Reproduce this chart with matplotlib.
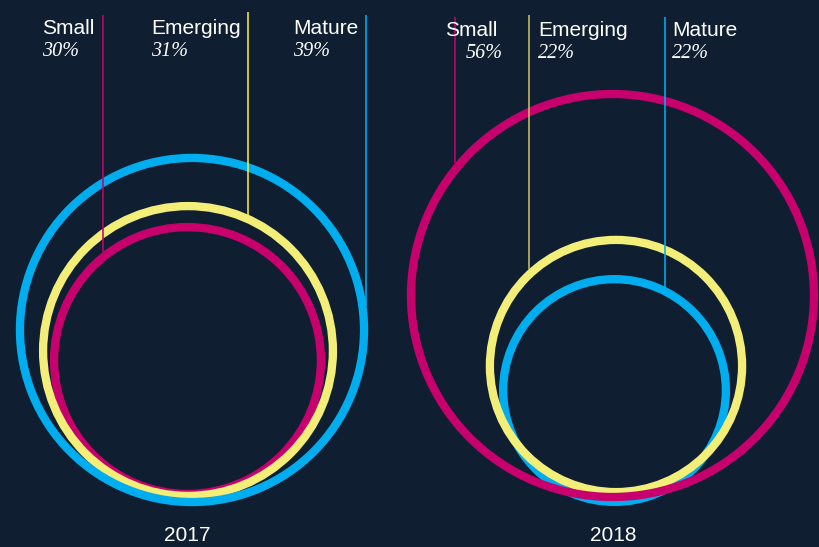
import numpy as np
import matplotlib
matplotlib.use("Agg")
import matplotlib.pyplot as plt
from matplotlib.patches import Circle

# ---------------- data ----------------
years = ["2017", "2018"]
categories = ["Small", "Emerging", "Mature"]
share_2017 = [30, 31, 39]          # % labels
share_2018 = [56, 22, 22]
# relative circle areas (arbitrary units)
area_2017 = [17.8, 21.0, 29.6]
area_2018 = [40.6, 15.9, 12.4]

# ---------------- style / layout ----------------
BG = "#0f1f31"
circle_colors = {"Small": "#c8006e", "Emerging": "#f2ee78", "Mature": "#00aeef"}
leader_colors = [
    {"Small": "#c8006e", "Emerging": "#f4ea3c", "Mature": "#00aeef"},
    {"Small": "#c8006e", "Emerging": "#c8bf62", "Mature": "#00aeef"},
]
SCALE = np.sqrt(1000.0)     # px per sqrt(area unit)
STROKE_PX = 8.3

# circle centres (pixel layout)
centres = [
    {"Small": (187.5, 360.5), "Emerging": (188.0, 351.0), "Mature": (192.0, 330.0)},
    {"Small": (612.5, 295.5), "Emerging": (616.0, 366.0), "Mature": (614.5, 390.5)},
]
# label layout: (text_x, pct_x, line_x, line_top)
label_layout = [
    {"Small": (42, 42, 103, 15), "Emerging": (151, 151, 248, 12), "Mature": (293, 293, 366.5, 15)},
    {"Small": (445, 466, 455.5, 17), "Emerging": (538, 538, 529, 15), "Mature": (672, 672, 665, 17)},
]
name_baseline = [33.5, 35.5]
pct_baseline = [56, 58.5]
year_x = [187, 613]
year_baseline = 541

W, H, DPI = 820, 547, 100
fig = plt.figure(figsize=(W / DPI, H / DPI), dpi=DPI, facecolor=BG)
ax = fig.add_axes([0, 0, 1, 1])
ax.set_xlim(0, W)
ax.set_ylim(H, 0)
ax.set_aspect("equal")
ax.axis("off")
ax.set_facecolor(BG)

px_to_pt = 72.0 / DPI
shares = [share_2017, share_2018]
areas = [area_2017, area_2018]

for g, year in enumerate(years):
    radii = {c: np.sqrt(a) * SCALE for c, a in zip(categories, areas[g])}
    # draw circles smallest first
    for c in sorted(categories, key=lambda k: radii[k]):
        cx, cy = centres[g][c]
        ax.add_patch(Circle((cx, cy), radii[c], fill=False,
                            edgecolor=circle_colors[c],
                            linewidth=STROKE_PX * px_to_pt, zorder=2))
    for c, s in zip(categories, shares[g]):
        tx, px, lx, ltop = label_layout[g][c]
        cx, cy = centres[g][c]
        ro = radii[c] + STROKE_PX / 2
        dx = lx - cx
        yend = cy - np.sqrt(max(ro ** 2 - dx ** 2, 0.0))
        ax.plot([lx, lx], [ltop, yend], color=leader_colors[g][c],
                linewidth=1.6 * px_to_pt, zorder=3, solid_capstyle="butt")
        ax.text(tx, name_baseline[g], c, color="white", fontsize=15,
                family="Liberation Sans", ha="left", va="baseline", zorder=4)
        ax.text(px, pct_baseline[g], f"{s}%", color="white", fontsize=14.5,
                family="Liberation Serif", style="italic",
                ha="left", va="baseline", zorder=4)
    ax.text(year_x[g], year_baseline, year, color="white", fontsize=15,
            family="Liberation Sans", ha="center", va="baseline")

fig.savefig("out.png", dpi=DPI, facecolor=BG)
